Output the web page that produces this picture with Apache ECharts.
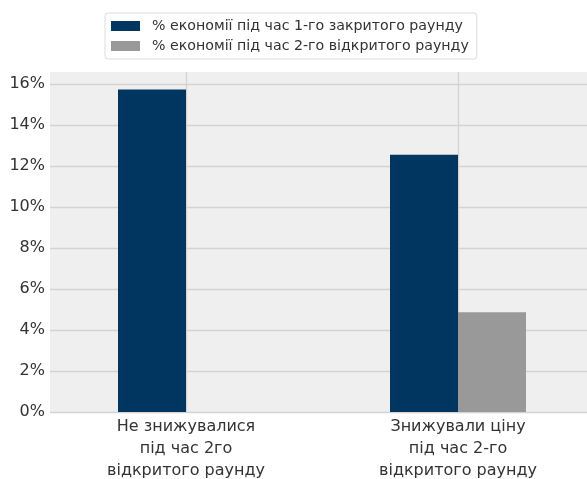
<!DOCTYPE html>
<html>
<head>
<meta charset="utf-8">
<script src="https://cdn.jsdelivr.net/npm/echarts@6/dist/echarts.min.js"></script>
<style>
  html, body { margin: 0; padding: 0; background: #fff; }
  #chart { width: 587px; height: 479px; }
</style>
</head>
<body>
<div id="chart"></div>
<script>
// categories and values (percent)
var categories = ['Не знижувалися\nпід час 2го\nвідкритого раунду', 'Знижували ціну\nпід час 2-го\nвідкритого раунду'];
var seriesNames = ['% економії під час 1-го закритого раунду', '% економії під час 2-го відкритого раунду'];
var round1 = [15.75, 12.56];
var round2 = [null, 4.87];
var yTicks = [0, 2, 4, 6, 8, 10, 12, 14, 16];

var chart = echarts.init(document.getElementById('chart'));
var font = 'DejaVu Sans';
var gridColor = '#d3d3d3';
var none = 'rgba(0,0,0,0)';

// one colour per y split line, the last one (at the top edge) hidden
var ySplitColors = yTicks.map(function () { return gridColor; }).concat([none]);

var option = {
  animation: false,
  textStyle: { fontFamily: font },
  legend: {
    orient: 'vertical',
    left: 105,
    top: 13,
    padding: [6, 8, 6, 6],
    itemWidth: 29,
    itemHeight: 10,
    itemGap: 6,
    backgroundColor: '#fff',
    borderColor: '#dcdcdc',
    borderWidth: 1,
    borderRadius: 3,
    icon: 'rect',
    textStyle: { fontSize: 14.2, color: '#333', fontFamily: font, padding: [0, 0, 0, 7] },
    data: seriesNames
  },
  grid: {
    left: 50,
    top: 72,
    width: 544,
    bottom: 67,
    outerBoundsMode: 'none',
    containLabel: false,
    show: true,
    backgroundColor: '#efefef',
    borderWidth: 0
  },
  xAxis: [{
    type: 'category',
    data: categories,
    axisLine: { show: false },
    axisTick: { show: false },
    splitLine: { show: false },
    axisLabel: {
      fontSize: 16,
      lineHeight: 22,
      color: '#333',
      margin: 4,
      fontFamily: font
    }
  }, {
    // hidden axis only used to draw vertical grid lines at the category centres
    type: 'value',
    min: -0.5,
    max: 1.5,
    interval: 0.5,
    show: true,
    axisLine: { show: false },
    axisTick: { show: false },
    axisLabel: { show: false },
    splitLine: {
      show: true,
      lineStyle: {
        color: [none, gridColor, none, gridColor, none],
        width: 1.3
      }
    }
  }],
  yAxis: {
    type: 'value',
    min: 0,
    max: 16.6,
    interval: 2,
    axisLine: { show: false },
    axisTick: { show: false },
    axisLabel: {
      fontSize: 16,
      color: '#333',
      margin: 5,
      showMaxLabel: false,
      fontFamily: font,
      formatter: function (v) { return v + '%'; }
    },
    splitLine: {
      show: true,
      lineStyle: { color: ySplitColors, width: 1.3 }
    }
  },
  series: [{
    name: seriesNames[0],
    type: 'bar',
    xAxisIndex: 0,
    data: round1,
    barWidth: 68,
    barGap: '0%',
    itemStyle: { color: '#00365f' }
  }, {
    name: seriesNames[1],
    type: 'bar',
    xAxisIndex: 0,
    data: round2,
    barWidth: 68,
    barGap: '0%',
    itemStyle: { color: '#999999' }
  }]
};
chart.setOption(option);
</script>
</body>
</html>
